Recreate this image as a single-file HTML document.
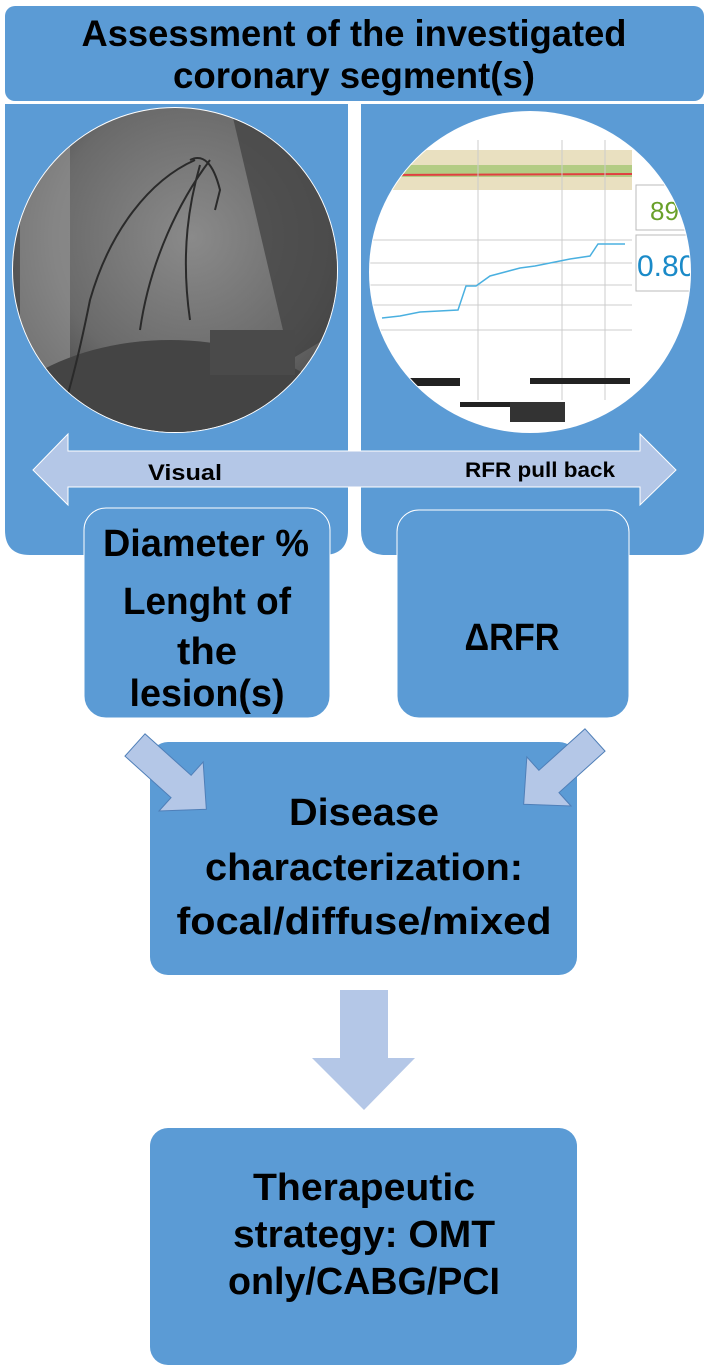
<!DOCTYPE html>
<html><head><meta charset="utf-8"><style>
html,body{margin:0;padding:0;background:#fff;}
svg{display:block;}
text{font-family:"Liberation Sans",sans-serif;font-weight:bold;fill:#000;}
</style></head><body>
<svg width="709" height="1370" viewBox="0 0 709 1370" xmlns="http://www.w3.org/2000/svg">
<defs>
<radialGradient id="xr" cx="0.55" cy="0.4" r="0.7">
<stop offset="0" stop-color="#8a8a8a"/><stop offset="0.6" stop-color="#6a6a6a"/><stop offset="1" stop-color="#3a3a3a"/>
</radialGradient>
<clipPath id="cl"><ellipse cx="175" cy="270" rx="162" ry="162"/></clipPath>
<clipPath id="cr"><ellipse cx="530" cy="272" rx="160" ry="160"/></clipPath>
</defs>
<rect x="5" y="6" width="699" height="95" rx="10" fill="#5b9bd5"/>
<text x="354" y="46" font-size="37" text-anchor="middle" textLength="545" lengthAdjust="spacingAndGlyphs">Assessment of the investigated</text>
<text x="354" y="88" font-size="37" text-anchor="middle" textLength="362" lengthAdjust="spacingAndGlyphs">coronary segment(s)</text>
<path d="M5 104 H348 V530 Q348 555 323 555 H30 Q5 555 5 530 Z" fill="#5b9bd5"/>
<path d="M361 104 H704 V530 Q704 555 679 555 H386 Q361 555 361 530 Z" fill="#5b9bd5"/>
<ellipse cx="175" cy="270" rx="163" ry="163" fill="#fff"/>
<g clip-path="url(#cl)">
<rect x="10" y="105" width="330" height="330" fill="url(#xr)"/>
<rect x="20" y="105" width="50" height="330" fill="#a0a0a0" opacity="0.5"/>
<polygon points="230,105 340,105 340,330 290,360" fill="#3f3f3f" opacity="0.7"/>
<ellipse cx="170" cy="470" rx="200" ry="130" fill="#444"/>
<rect x="210" y="330" width="85" height="45" fill="#4a4a4a"/>
<path d="M195 160 C150 180 110 230 90 300 C80 350 70 390 60 420 M210 160 C180 200 150 260 140 330 M200 165 C190 200 180 250 190 320 M190 160 Q210 150 220 190 L215 210" stroke="#2a2a2a" stroke-width="2" fill="none"/>
</g>
<ellipse cx="530" cy="272" rx="161" ry="161" fill="#fff"/>
<g clip-path="url(#cr)">
<rect x="370" y="150" width="262" height="40" fill="#e9e0c0"/>
<rect x="370" y="165" width="262" height="12" fill="#9bc36b" opacity="0.7"/>
<line x1="370" y1="175" x2="632" y2="174" stroke="#e04040" stroke-width="2"/>
<g stroke="#ccc" stroke-width="1">
<line x1="370" y1="240" x2="632" y2="240"/><line x1="370" y1="263" x2="632" y2="263"/><line x1="370" y1="285" x2="632" y2="285"/><line x1="370" y1="305" x2="632" y2="305"/><line x1="370" y1="330" x2="632" y2="330"/>
<line x1="478" y1="140" x2="478" y2="400"/><line x1="562" y1="140" x2="562" y2="400"/><line x1="605" y1="140" x2="605" y2="400"/>
</g>
<polyline points="382,318 400,316 420,312 458,310 466,286 476,286 490,276 520,268 535,266 555,262 570,259 590,256 598,244 625,244" fill="none" stroke="#4ab0e0" stroke-width="1.5"/>
<rect x="636" y="185" width="55" height="45" fill="#fff" stroke="#bbb"/>
<text x="650" y="220" font-size="26" style="fill:#6aa02a;font-weight:normal">89</text>
<rect x="636" y="235" width="55" height="56" fill="#fff" stroke="#bbb"/>
<text x="637" y="276" font-size="30" style="fill:#1a8ac8;font-weight:normal">0.80</text>
<rect x="410" y="378" width="50" height="8" fill="#222"/>
<rect x="510" y="402" width="55" height="20" fill="#333"/>
<rect x="460" y="402" width="50" height="5" fill="#222"/>
<rect x="530" y="378" width="100" height="6" fill="#222"/>
</g>
<polygon points="33,470 68,434 68,451 640,451 640,434 676,470 640,505 640,487 68,487 68,505" fill="#b4c7e7" stroke="#fff" stroke-width="1"/>
<text x="148" y="480" font-size="22" textLength="74" lengthAdjust="spacingAndGlyphs">Visual</text>
<text x="465" y="477" font-size="21" textLength="150" lengthAdjust="spacingAndGlyphs">RFR pull back</text>
<rect x="84" y="508" width="246" height="210" rx="22" fill="#5b9bd5" stroke="#fff" stroke-width="1"/>
<text x="206" y="556" font-size="38" text-anchor="middle" textLength="206" lengthAdjust="spacingAndGlyphs">Diameter %</text>
<text x="207" y="614" font-size="38" text-anchor="middle" textLength="168" lengthAdjust="spacingAndGlyphs">Lenght of</text>
<text x="207" y="664" font-size="38" text-anchor="middle" textLength="60" lengthAdjust="spacingAndGlyphs">the</text>
<text x="207" y="706" font-size="38" text-anchor="middle" textLength="155" lengthAdjust="spacingAndGlyphs">lesion(s)</text>
<rect x="397" y="510" width="232" height="208" rx="22" fill="#5b9bd5" stroke="#fff" stroke-width="1"/>
<text x="512" y="650" font-size="38" text-anchor="middle" textLength="95" lengthAdjust="spacingAndGlyphs">ΔRFR</text>
<rect x="150" y="742" width="427" height="233" rx="18" fill="#5b9bd5"/>
<text x="364" y="825" font-size="38" text-anchor="middle" textLength="150" lengthAdjust="spacingAndGlyphs">Disease</text>
<text x="364" y="880" font-size="38" text-anchor="middle" textLength="318" lengthAdjust="spacingAndGlyphs">characterization:</text>
<text x="364" y="934" font-size="38" text-anchor="middle" textLength="375" lengthAdjust="spacingAndGlyphs">focal/diffuse/mixed</text>
<g transform="translate(135,745) rotate(42)"><polygon points="0,-15 62,-15 62,-33 96,0 62,33 62,15 0,15" fill="#b4c7e7" stroke="#4f7fb8" stroke-width="1"/></g>
<g transform="translate(595,740) rotate(138)"><polygon points="0,-15 62,-15 62,-33 96,0 62,33 62,15 0,15" fill="#b4c7e7" stroke="#4f7fb8" stroke-width="1"/></g>
<polygon points="340,990 388,990 388,1058 415,1058 364,1110 312,1058 340,1058" fill="#b4c7e7"/>
<rect x="150" y="1128" width="427" height="237" rx="18" fill="#5b9bd5"/>
<text x="364" y="1200" font-size="38" text-anchor="middle" textLength="222" lengthAdjust="spacingAndGlyphs">Therapeutic</text>
<text x="364" y="1247" font-size="38" text-anchor="middle" textLength="262" lengthAdjust="spacingAndGlyphs">strategy: OMT</text>
<text x="364" y="1294" font-size="38" text-anchor="middle" textLength="272" lengthAdjust="spacingAndGlyphs">only/CABG/PCI</text>
</svg>
</body></html>
